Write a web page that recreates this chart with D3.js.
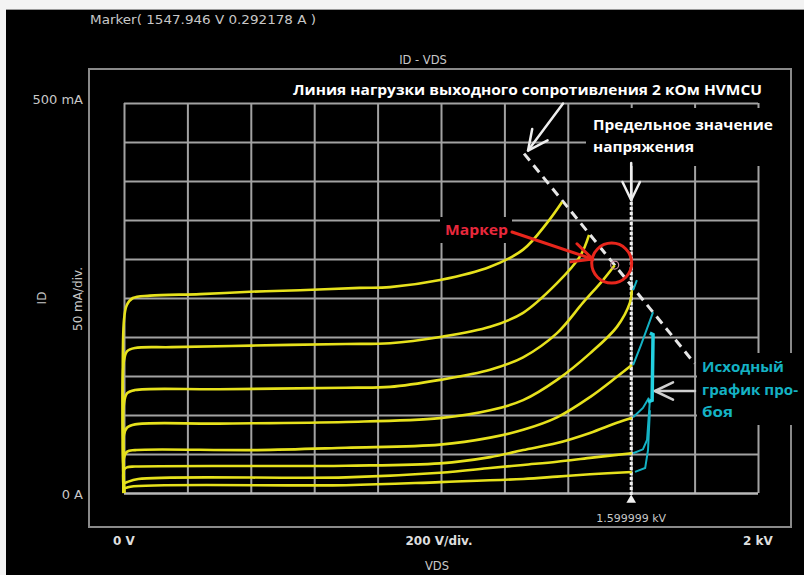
<!DOCTYPE html>
<html>
<head>
<meta charset="utf-8">
<title>ID - VDS</title>
<script src="https://cdn.jsdelivr.net/npm/d3@7/dist/d3.min.js"></script>
<style>
  html, body { margin: 0; padding: 0; background: #000; }
  svg { display: block; }
</style>
</head>
<body>
<svg id="chart" width="804" height="575"></svg>
<script>
// axes (VDS in V, ID in mA)
const vdsDomain = [0, 2000]
const idDomain = [0, 500]
const vdsTicks = d3.range(0, 2001, 200)
const idTicks = d3.range(0, 501, 50)

// ID-VDS family [V, mA]
const curve1 = [[0,0],[0,222],[9,241],[28,250],[82,253],[240,255],[397,258],[555,260],[744,263],[839,264],[997,273],[1155,290],[1259,312],[1334,346],[1382,373]]
const curve2 = [[0,0],[0,170],[10,182],[35,186],[150,187],[400,189],[700,191],[839,192],[997,200],[1155,213],[1259,231],[1366,269],[1438,303],[1467,331]]
const curve3 = [[0,0],[0,115],[10,128],[35,132],[300,133],[700,135],[839,136],[997,145],[1155,158],[1259,174],[1366,205],[1448,244],[1511,273],[1548,292]]
const curve4 = [[0,0],[0,75],[10,84],[35,88],[300,89],[700,91],[997,96],[1155,106],[1259,119],[1366,145],[1470,179],[1555,213],[1596,244],[1602,260]]
const curve5 = [[0,0],[0,45],[10,53],[35,55],[420,55],[700,58],[997,62],[1155,71],[1259,81],[1366,97],[1470,123],[1555,149],[1602,164]]
const curve6 = [[0,0],[0,30],[10,33],[35,34],[700,35],[997,38],[1155,46],[1259,55],[1366,64],[1470,77],[1555,90],[1602,96]]
const curve7 = [[0,0],[0,12],[10,14],[45,18],[700,20],[997,26],[1155,32],[1259,36],[1366,40],[1470,45],[1602,51]]
const curve8 = [[0,0],[0,5],[20,8],[700,10],[997,14],[1259,18],[1366,21],[1470,24],[1602,27]]
const curves = [curve1, curve2, curve3, curve4, curve5, curve6, curve7, curve8]

// breakdown traces past the limit [V, mA]
const breakdownThin = [
  [[1606,260],[1618,273]],
  [[1606,164],[1631,190],[1669,232]],
  [[1606,97],[1637,109],[1656,122]],
  [[1606,51],[1637,56],[1650,68],[1659,119]],
  [[1612,27],[1644,32],[1653,55],[1659,106]]
]
const breakdownSpine = [[1659,205],[1669,203],[1666,119],[1653,117]]

const markerPoint = [1547.946, 292.178]
const voltageLimit = 1599.999
const loadResistance = 2000 // ohm
const loadLineV = [1262, 1800]

const svg = d3.select('#chart')
const W = 804, H = 575

// scales
const x = d3.scaleLinear().domain(vdsDomain).range([124, 758])
const y = d3.scaleLinear().domain(idDomain).range([493, 103])

// background + scan border
svg.append('rect').attr('width', W).attr('height', H).attr('fill', '#000')
svg.append('rect').attr('width', W).attr('height', 9).attr('fill', '#f3f3f3')
svg.append('rect').attr('y', 9).attr('width', W).attr('height', 1).attr('fill', '#9a9a9a')
svg.append('rect').attr('width', 6).attr('height', H).attr('fill', '#f3f3f3')

const gray = '#c8c8c8'
const smallFont = '"DejaVu Sans", Verdana, sans-serif'

// outer frame
svg.append('rect')
  .attr('x', 89).attr('y', 69).attr('width', 702).attr('height', 458)
  .attr('fill', 'none').attr('stroke', '#8a8a8a').attr('stroke-width', 2)

// header texts
svg.append('text').attr('x', 90).attr('y', 24)
  .attr('font-family', smallFont).attr('font-size', 11.5).attr('fill', gray)
  .attr('textLength', 226).attr('lengthAdjust', 'spacingAndGlyphs')
  .text(`Marker( ${markerPoint[0]} V ${markerPoint[1] / 1000} A )`)
svg.append('text').attr('x', 423).attr('y', 64).attr('text-anchor', 'middle')
  .attr('font-family', smallFont).attr('font-size', 11.5).attr('fill', gray)
  .text('ID - VDS')

// grid via axes
const gridX = svg.append('g').attr('transform', `translate(0,${y(0)})`)
  .call(d3.axisBottom(x).tickValues(vdsTicks).tickSize(-(y(0) - y(500))).tickFormat(''))
const gridY = svg.append('g').attr('transform', `translate(${x(0)},0)`)
  .call(d3.axisLeft(y).tickValues(idTicks).tickSize(-(x(2000) - x(0))).tickFormat(''))
svg.selectAll('.domain').remove()
svg.selectAll('.tick line').attr('stroke', '#a2a2a2').attr('stroke-width', 2)
gridY.selectAll('.tick').filter(d => d === 0).select('line').attr('stroke', '#b8b8b8').attr('stroke-width', 2.5)

// y labels
svg.append('text').attr('x', 83).attr('y', y(500) + 1).attr('text-anchor', 'end')
  .attr('font-family', smallFont).attr('font-size', 13).attr('fill', gray).text('500 mA')
svg.append('text').attr('x', 83).attr('y', y(0) + 6).attr('text-anchor', 'end')
  .attr('font-family', smallFont).attr('font-size', 13).attr('fill', gray).text('0 A')
svg.append('text').attr('transform', 'translate(46,298) rotate(-90)').attr('text-anchor', 'middle')
  .attr('font-family', smallFont).attr('font-size', 12).attr('fill', gray).text('ID')
svg.append('text').attr('transform', 'translate(82,299) rotate(-90)').attr('text-anchor', 'middle')
  .attr('font-family', smallFont).attr('font-size', 12).attr('fill', gray).text('50 mA/div.')

// x labels
const xLab = [['0 V', 0], ['200 V/div.', 1000], ['2 kV', 2000]]
xLab.forEach(([t, v]) => {
  svg.append('text').attr('x', x(v) - (v === 1000 ? 2 : 0)).attr('y', 545).attr('text-anchor', 'middle')
    .attr('font-family', smallFont).attr('font-size', 12).attr('font-weight', 'bold').attr('fill', '#dedede').text(t)
})
svg.append('text').attr('x', 437).attr('y', 570).attr('text-anchor', 'middle')
  .attr('font-family', smallFont).attr('font-size', 11.5).attr('fill', gray).text('VDS')

// black boxes behind annotation text (they hide grid)
const boxes = [[586, 108, 192, 58], [440, 217, 72, 26], [697, 353, 95, 72]]
boxes.forEach(([bx, by, bw, bh]) => {
  svg.append('rect').attr('x', bx).attr('y', by).attr('width', bw).attr('height', bh).attr('fill', '#000')
})

// voltage limit line
svg.append('line')
  .attr('x1', x(voltageLimit)).attr('x2', x(voltageLimit))
  .attr('y1', 202).attr('y2', y(0) + 4)
  .attr('stroke', '#f0f0f0').attr('stroke-width', 3).attr('stroke-dasharray', '3,2')
svg.append('path')
  .attr('d', d3.symbol(d3.symbolTriangle, 40)())
  .attr('transform', `translate(${x(voltageLimit)},${y(0) + 7})`)
  .attr('fill', '#f0f0f0')
svg.append('text').attr('x', x(voltageLimit)).attr('y', 522).attr('text-anchor', 'middle')
  .attr('font-family', smallFont).attr('font-size', 11).attr('fill', gray)
  .text((voltageLimit / 1000).toFixed(6) + ' kV')

// load line through the marker
const voc = markerPoint[0] + markerPoint[1] / 1000 * loadResistance
const loadI = v => (voc - v) / loadResistance * 1000
svg.append('line')
  .attr('x1', x(loadLineV[0])).attr('y1', y(loadI(loadLineV[0])))
  .attr('x2', x(loadLineV[1])).attr('y2', y(loadI(loadLineV[1])))
  .attr('stroke', '#e6e6e6').attr('stroke-width', 3).attr('stroke-dasharray', '9,6')

// curves
const line = d3.line().x(d => x(d[0])).y(d => y(d[1])).curve(d3.curveCatmullRom.alpha(0.5))
svg.append('g').selectAll('path').data(curves).join('path')
  .attr('d', line).attr('fill', 'none')
  .attr('stroke', '#e6e11c').attr('stroke-width', 2.6).attr('stroke-linejoin', 'round')

const teal = '#14b2c4'
svg.append('g').selectAll('path').data(breakdownThin).join('path')
  .attr('d', d3.line().x(d => x(d[0])).y(d => y(d[1])))
  .attr('fill', 'none').attr('stroke', teal).attr('stroke-width', 2)
svg.append('path').attr('d', d3.line().x(d => x(d[0])).y(d => y(d[1]))(breakdownSpine))
  .attr('fill', 'none').attr('stroke', '#22d0e0').attr('stroke-width', 3.5)

// marker
const mx = x(markerPoint[0]), my = y(markerPoint[1])
svg.append('circle').attr('cx', mx).attr('cy', my).attr('r', 4)
  .attr('fill', 'none').attr('stroke', '#c890a0').attr('stroke-width', 1.2)
svg.append('circle').attr('cx', mx - 3).attr('cy', my - 2).attr('r', 20)
  .attr('fill', 'none').attr('stroke', '#e8261c').attr('stroke-width', 3)

// arrows
function arrow(x1, y1, x2, y2, color, w, head) {
  const a = Math.atan2(y2 - y1, x2 - x1)
  const g = svg.append('g').attr('stroke', color).attr('stroke-width', w)
    .attr('fill', 'none').attr('stroke-linecap', 'round').attr('stroke-linejoin', 'round')
  g.append('line').attr('x1', x1).attr('y1', y1).attr('x2', x2).attr('y2', y2)
  const h = head || 20, s = 0.45
  g.append('path').attr('d', `M${x2 - h * Math.cos(a - s)},${y2 - h * Math.sin(a - s)}L${x2},${y2}L${x2 - h * Math.cos(a + s)},${y2 - h * Math.sin(a + s)}`)
}
const lx0 = x(loadLineV[0]), ly0 = y(loadI(loadLineV[0]))
arrow(lx0 + 39, ly0 - 50, lx0 + 4, ly0 - 3, '#eeeeee', 2.5, 22)
arrow(x(voltageLimit), 163, x(voltageLimit), 200, '#eeeeee', 2.5, 20)
arrow(512, 232, mx - 22, my - 6, '#e8261c', 3, 22)
arrow(695, 391, 655, 391, '#cfcfcf', 2.5, 20)

// annotation texts
const bold = '"Open Sans", "Noto Sans", sans-serif'
function note(t, tx, ty, color, len) {
  svg.append('text').attr('x', tx).attr('y', ty)
    .attr('font-family', bold).attr('font-weight', 700).attr('font-size', 14)
    .attr('fill', color).attr('textLength', len).attr('lengthAdjust', 'spacingAndGlyphs').text(t)
}
note('Линия нагрузки выходного сопротивления 2 кОм HVMCU', 293, 95, '#ffffff', 469)
note('Предельное значение', 593, 130, '#ffffff', 180)
note('напряжения', 593, 152, '#ffffff', 101)
note('Маркер', 445, 235, '#e8283c', 63)
note('Исходный', 702, 372, teal, 82)
note('график про-', 702, 395, teal, 96)
note('боя', 702, 417, teal, 31)
</script>
</body>
</html>
